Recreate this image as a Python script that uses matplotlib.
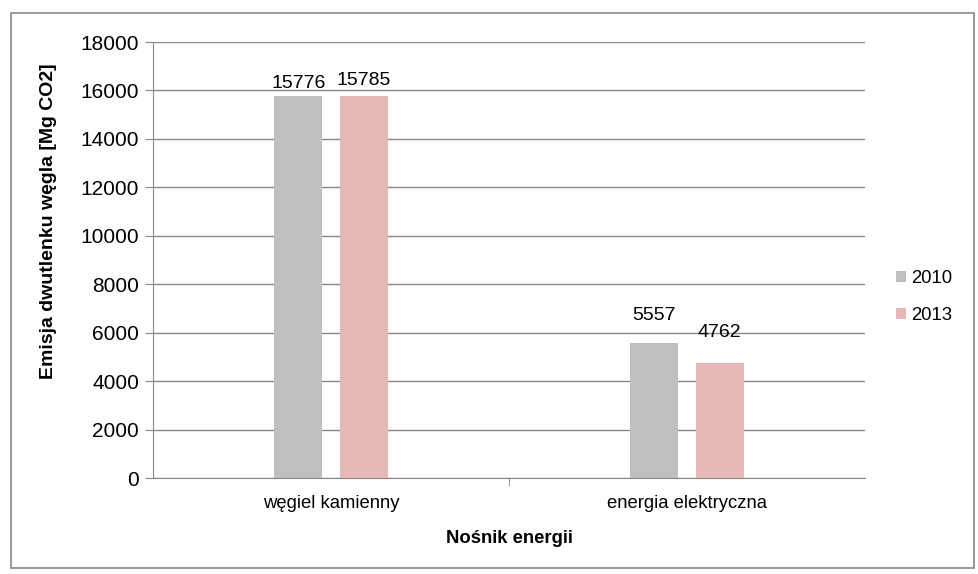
import numpy as np
import matplotlib.pyplot as plt
from matplotlib.patches import Rectangle

# data
categories = ['węgiel kamienny', 'energia elektryczna']
years = ['2010', '2013']
values_2010 = [15776, 5557]
values_2013 = [15785, 4762]
colors = ['#BFBFBF', '#E6B9B8']

plt.rcParams['font.family'] = ['Liberation Sans', 'DejaVu Sans']

fig = plt.figure(figsize=(9.79, 5.74), dpi=100)
ax = fig.add_axes([0.1563, 0.1672, 0.7273, 0.7596])

# outer chart border
fig.patches.append(Rectangle((0.011, 0.01), 0.984, 0.968, transform=fig.transFigure,
                             fill=False, edgecolor='#878787', linewidth=1.2))

x = np.arange(len(categories))
w = 0.135
off = 0.092
b1 = ax.bar(x - off, values_2010, w, color=colors[0], label=years[0])
b2 = ax.bar(x + off, values_2013, w, color=colors[1], label=years[1])

# label gaps (points) as placed in the original chart
gaps = [[5.8, 17.0], [7.9, 18.5]]
for bars, g in zip((b1, b2), gaps):
    for r, dy in zip(bars, g):
        ax.annotate(f'{int(r.get_height())}', (r.get_x() + r.get_width() / 2, r.get_height()),
                    xytext=(0, dy), textcoords='offset points',
                    ha='center', va='baseline', fontsize=14)

ax.set_xlim(-0.5, 1.5)
ax.set_ylim(0, 18000)
ax.set_yticks(range(0, 18001, 2000))
ax.set_xticks(x)
ax.set_xticklabels(categories, fontsize=13.3)
ax.set_xticks([0.5], minor=True)
ax.tick_params(axis='x', which='major', length=0, pad=12)
ax.tick_params(axis='x', which='minor', length=6, color='#878787')
ax.tick_params(axis='y', length=6, color='#878787', labelsize=15, pad=4)
ax.yaxis.grid(True, color='#878787', linewidth=1)
ax.set_axisbelow(True)

for s in ['top', 'right']:
    ax.spines[s].set_visible(False)
for s in ['left', 'bottom']:
    ax.spines[s].set_color('#878787')

ax.set_xlabel('Nośnik energii', fontsize=13.3, fontweight='bold', labelpad=13)
ax.set_ylabel('Emisja dwutlenku węgla [Mg CO2]', fontsize=14, fontweight='bold')
ax.yaxis.set_label_coords(-0.135, 0.589)

ax.legend(loc='center left', bbox_to_anchor=(1.02, 0.415), frameon=False, fontsize=13.3,
          handlelength=0.55, handleheight=0.55, handletextpad=0.25, labelspacing=1.1)

fig.savefig('out.png', dpi=100)
